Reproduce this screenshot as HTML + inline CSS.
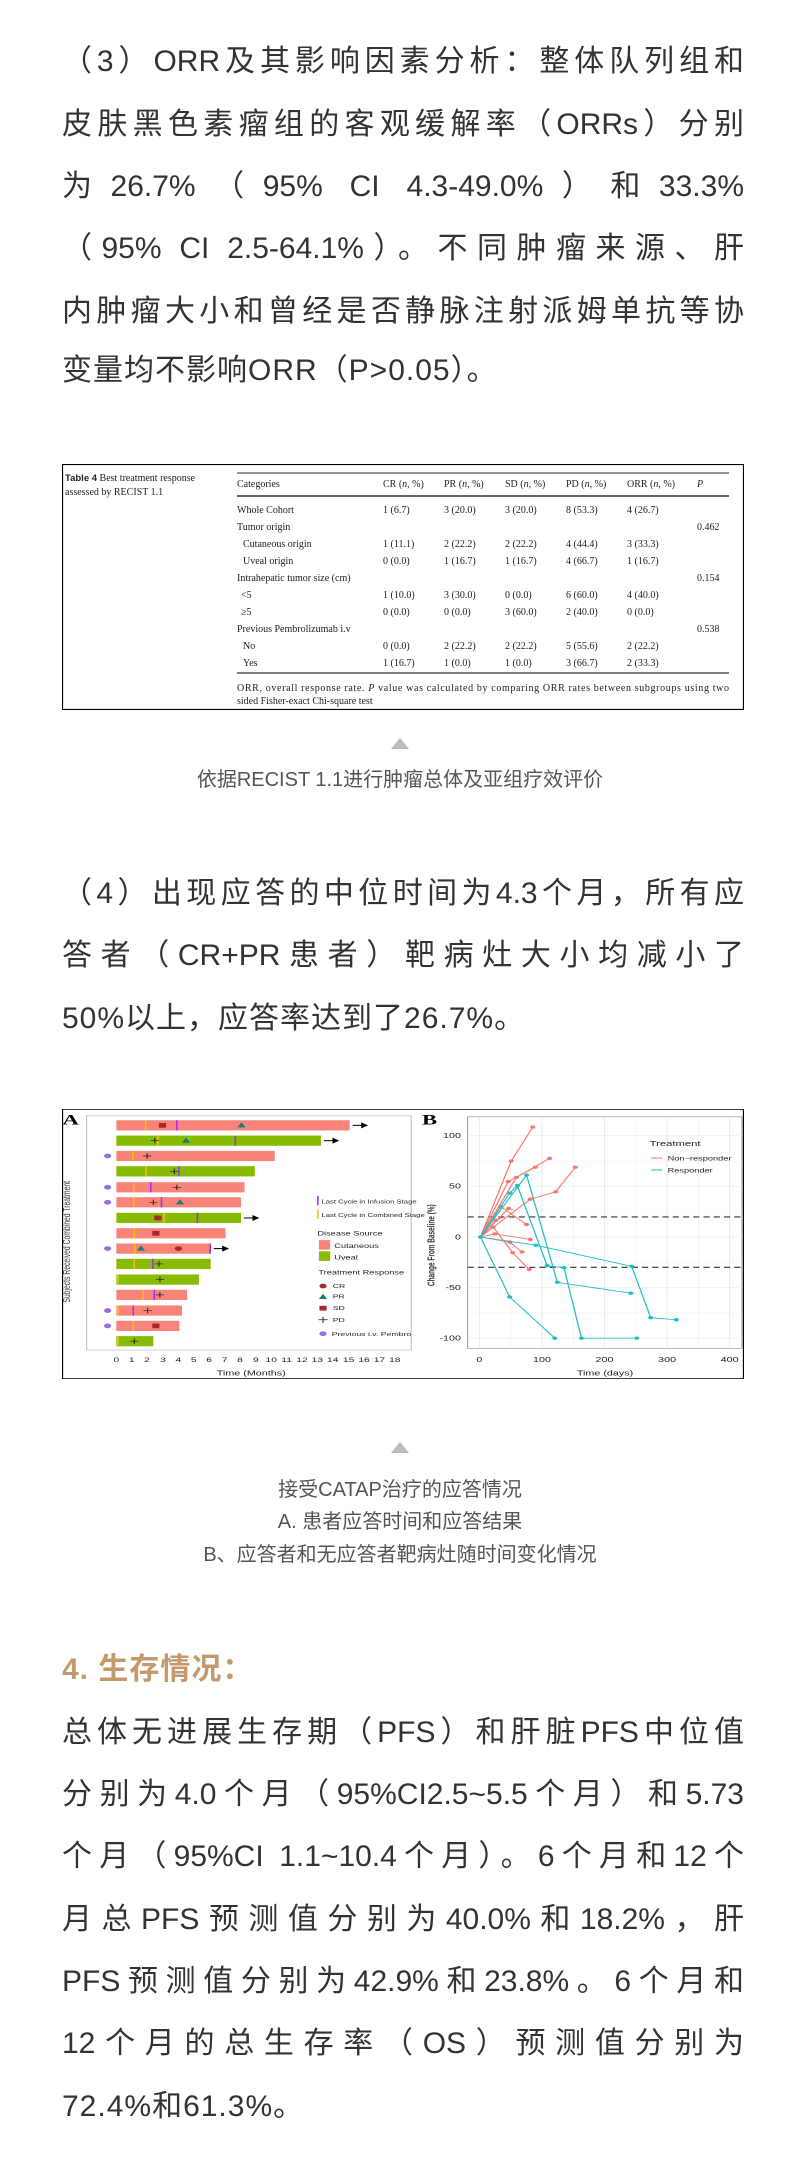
<!DOCTYPE html>
<html><head><meta charset="utf-8">
<style>
html,body{margin:0;padding:0;background:#fff;}
body{width:800px;height:2169px;position:relative;overflow:hidden;font-family:"Liberation Sans","Noto Sans CJK SC",sans-serif;color:#333;}
.l{position:absolute;left:62px;width:682px;height:62px;line-height:62px;font-size:30px;letter-spacing:0px;text-align:justify;text-align-last:justify;white-space:nowrap;}
.l.e{text-align-last:left;letter-spacing:1px;}
.c{position:absolute;left:0;width:800px;text-align:center;font-size:20px;color:#555;line-height:30px;}
.tri{position:absolute;left:391px;width:0;height:0;border-left:9px solid transparent;border-right:9px solid transparent;border-bottom:11px solid #bbb;}
</style></head><body>

<div class="l" style="top:31px">（3）ORR及其影响因素分析：整体队列组和</div>
<div class="l" style="top:94px">皮肤黑色素瘤组的客观缓解率（ORRs）分别</div>
<div class="l" style="top:156px">为26.7%（95% CI 4.3-49.0%）和33.3%</div>
<div class="l" style="top:218px">（95% CI 2.5-64.1%）。不同肿瘤来源、肝</div>
<div class="l" style="top:281px">内肿瘤大小和曾经是否静脉注射派姆单抗等协</div>
<div class="l e" style="top:340px">变量均不影响ORR（P&gt;0.05）。</div>

<svg style="position:absolute;left:62px;top:464px" width="682" height="246" viewBox="62 464 682 246" font-family="Liberation Serif,serif" font-size="10" fill="#222">
<rect x="62.5" y="464.5" width="681" height="245" fill="#fff" stroke="#000" stroke-width="1.2"/>
<text x="65" y="481"><tspan font-family="Liberation Sans Narrow,Liberation Sans,sans-serif" font-weight="bold" font-size="9.5">Table 4</tspan> Best treatment response</text>
<text x="65" y="495">assessed by RECIST 1.1</text>
<line x1="237" y1="473" x2="729" y2="473" stroke="#555" stroke-width="1.2"/>
<line x1="237" y1="496" x2="729" y2="496" stroke="#333" stroke-width="1.5"/>
<line x1="237" y1="673" x2="729" y2="673" stroke="#555" stroke-width="1.5"/>
<g>
<text x="237" y="487">Categories</text><text x="383" y="487">CR (<tspan font-style="italic">n</tspan>, %)</text><text x="444" y="487">PR (<tspan font-style="italic">n</tspan>, %)</text><text x="505" y="487">SD (<tspan font-style="italic">n</tspan>, %)</text><text x="566" y="487">PD (<tspan font-style="italic">n</tspan>, %)</text><text x="627" y="487">ORR (<tspan font-style="italic">n</tspan>, %)</text><text x="697" y="487" font-style="italic">P</text>
<text x="237" y="513">Whole Cohort</text><text x="383" y="513">1 (6.7)</text><text x="444" y="513">3 (20.0)</text><text x="505" y="513">3 (20.0)</text><text x="566" y="513">8 (53.3)</text><text x="627" y="513">4 (26.7)</text>
<text x="237" y="530">Tumor origin</text><text x="697" y="530">0.462</text>
<text x="243" y="547">Cutaneous origin</text><text x="383" y="547">1 (11.1)</text><text x="444" y="547">2 (22.2)</text><text x="505" y="547">2 (22.2)</text><text x="566" y="547">4 (44.4)</text><text x="627" y="547">3 (33.3)</text>
<text x="243" y="564">Uveal origin</text><text x="383" y="564">0 (0.0)</text><text x="444" y="564">1 (16.7)</text><text x="505" y="564">1 (16.7)</text><text x="566" y="564">4 (66.7)</text><text x="627" y="564">1 (16.7)</text>
<text x="237" y="581">Intrahepatic tumor size (cm)</text><text x="697" y="581">0.154</text>
<text x="241" y="598">&lt;5</text><text x="383" y="598">1 (10.0)</text><text x="444" y="598">3 (30.0)</text><text x="505" y="598">0 (0.0)</text><text x="566" y="598">6 (60.0)</text><text x="627" y="598">4 (40.0)</text>
<text x="241" y="615">≥5</text><text x="383" y="615">0 (0.0)</text><text x="444" y="615">0 (0.0)</text><text x="505" y="615">3 (60.0)</text><text x="566" y="615">2 (40.0)</text><text x="627" y="615">0 (0.0)</text>
<text x="237" y="632">Previous Pembrolizumab i.v</text><text x="697" y="632">0.538</text>
<text x="243" y="649">No</text><text x="383" y="649">0 (0.0)</text><text x="444" y="649">2 (22.2)</text><text x="505" y="649">2 (22.2)</text><text x="566" y="649">5 (55.6)</text><text x="627" y="649">2 (22.2)</text>
<text x="243" y="666">Yes</text><text x="383" y="666">1 (16.7)</text><text x="444" y="666">1 (0.0)</text><text x="505" y="666">1 (0.0)</text><text x="566" y="666">3 (66.7)</text><text x="627" y="666">2 (33.3)</text>
<text x="237" y="691" textLength="492">ORR, overall response rate. <tspan font-style="italic">P</tspan> value was calculated by comparing ORR rates between subgroups using two</text>
<text x="237" y="704">sided Fisher-exact Chi-square test</text>
</g>
</svg>

<div class="tri" style="top:738px"></div>
<div class="c" style="top:765px">依据RECIST 1.1进行肿瘤总体及亚组疗效评价</div>

<div class="l" style="top:863px">（4）出现应答的中位时间为4.3个月，所有应</div>
<div class="l" style="top:925px">答者（CR+PR患者）靶病灶大小均减小了</div>
<div class="l e" style="top:988px">50%以上，应答率达到了26.7%。</div>

<svg style="position:absolute;left:62px;top:1109px" width="682" height="270" viewBox="124 85 1330 793" preserveAspectRatio="none" font-family="Liberation Sans Narrow,Liberation Sans,sans-serif">
<rect x="125" y="86" width="1328" height="791" fill="#fff" stroke="#000" stroke-width="2.5"/>
<text x="125" y="130" font-family="Liberation Serif,serif" font-weight="bold" font-size="44">A</text>
<rect x="172" y="105" width="633" height="688" fill="#fff" stroke="#bbb" stroke-width="2"/>
<text transform="translate(140,475) rotate(-90)" text-anchor="middle" font-size="20" fill="#333">Subjects Received Combined Treatment</text>
<g>
<rect x="230" y="118" width="455" height="30" fill="#f88379"/>
<rect x="230" y="163" width="399" height="30" fill="#86bb00"/>
<rect x="230" y="208" width="309" height="30" fill="#f88379"/>
<rect x="230" y="253" width="270" height="30" fill="#86bb00"/>
<rect x="230" y="300" width="250" height="30" fill="#f88379"/>
<rect x="230" y="344" width="243" height="30" fill="#f88379"/>
<rect x="230" y="390" width="243" height="30" fill="#86bb00"/>
<rect x="230" y="435" width="213" height="30" fill="#f88379"/>
<rect x="230" y="480" width="184" height="30" fill="#f88379"/>
<rect x="230" y="525" width="184" height="30" fill="#86bb00"/>
<rect x="230" y="571" width="161" height="30" fill="#86bb00"/>
<rect x="230" y="616" width="138" height="30" fill="#f88379"/>
<rect x="230" y="662" width="128" height="30" fill="#f88379"/>
<rect x="230" y="707" width="123" height="30" fill="#f88379"/>
<rect x="230" y="752" width="72" height="30" fill="#86bb00"/>
</g>
<g stroke-width="3">
<g stroke="#f5c400">
<line x1="287" y1="118" x2="287" y2="148"/><line x1="311" y1="163" x2="311" y2="193"/><line x1="262" y1="208" x2="262" y2="238"/><line x1="288" y1="253" x2="288" y2="283"/><line x1="264" y1="300" x2="264" y2="330"/><line x1="264" y1="344" x2="264" y2="374"/><line x1="323" y1="390" x2="323" y2="420"/><line x1="265" y1="435" x2="265" y2="465"/><line x1="266" y1="480" x2="266" y2="510"/><line x1="265" y1="525" x2="265" y2="555"/><line x1="233" y1="571" x2="233" y2="601"/><line x1="282" y1="616" x2="282" y2="646"/><line x1="233" y1="662" x2="233" y2="692"/><line x1="263" y1="707" x2="263" y2="737"/><line x1="233" y1="752" x2="233" y2="782"/>
</g>
<g stroke="#9b30ff">
<line x1="348" y1="118" x2="348" y2="148"/><line x1="462" y1="163" x2="462" y2="193"/><line x1="352" y1="253" x2="352" y2="283"/><line x1="297" y1="300" x2="297" y2="330"/><line x1="318" y1="344" x2="318" y2="374"/><line x1="388" y1="390" x2="388" y2="420"/><line x1="413" y1="480" x2="413" y2="510"/><line x1="301" y1="525" x2="301" y2="555"/><line x1="304" y1="616" x2="304" y2="646"/><line x1="263" y1="662" x2="263" y2="692"/>
</g>
</g>
<g fill="#a52a2a">
<rect x="313" y="126" width="14" height="14"/><rect x="304" y="398" width="14" height="14"/><rect x="300" y="443" width="14" height="14"/><rect x="300" y="715" width="14" height="14"/>
<circle cx="351" cy="495" r="7"/>
</g>
<g fill="#1a7a7a">
<polygon points="474,124 466,139 482,139"/><polygon points="366,169 358,184 374,184"/><polygon points="354,350 346,365 362,365"/><polygon points="278,486 270,501 286,501"/>
</g>
<g stroke="#222" stroke-width="2">
<path d="M297,178h16M305,170v16M282,223h16M290,215v16M335,268h16M343,260v16M340,315h16M348,307v16M294,359h16M302,351v16M305,540h16M313,532v16M307,586h16M315,578v16M307,631h16M315,623v16M283,677h16M291,669v16M257,767h16M265,759v16"/>
</g>
<g fill="#9370db">
<circle cx="213" cy="223" r="7"/><circle cx="213" cy="315" r="7"/><circle cx="213" cy="359" r="7"/><circle cx="213" cy="495" r="7"/><circle cx="213" cy="677" r="7"/><circle cx="213" cy="722" r="7"/>
</g>
<g stroke="#000" stroke-width="3" fill="#000">
<line x1="691" y1="133" x2="712" y2="133"/><polygon points="718,133 709,127 709,139"/>
<line x1="635" y1="178" x2="656" y2="178"/><polygon points="662,178 653,172 653,184"/>
<line x1="479" y1="405" x2="500" y2="405"/><polygon points="506,405 497,399 497,411"/>
<line x1="420" y1="495" x2="441" y2="495"/><polygon points="447,495 438,489 438,501"/>
</g>
<g font-size="20" fill="#222" text-anchor="middle">
<text x="230" y="828">0</text><text x="260" y="828">1</text><text x="290" y="828">2</text><text x="321" y="828">3</text><text x="351" y="828">4</text><text x="381" y="828">5</text><text x="411" y="828">6</text><text x="441" y="828">7</text><text x="471" y="828">8</text><text x="502" y="828">9</text><text x="532" y="828">10</text><text x="562" y="828">11</text><text x="592" y="828">12</text><text x="622" y="828">13</text><text x="652" y="828">14</text><text x="683" y="828">15</text><text x="713" y="828">16</text><text x="743" y="828">17</text><text x="773" y="828">18</text>
<text x="493" y="868" font-size="21">Time (Months)</text>
</g>
<g font-size="15" fill="#222">
<line x1="623" y1="340" x2="623" y2="368" stroke="#9b30ff" stroke-width="3"/><text x="630" y="362">Last Cycle in Infusion Stage</text>
<line x1="623" y1="380" x2="623" y2="408" stroke="#f5c400" stroke-width="3"/><text x="630" y="402">Last Cycle in Combined Stage</text>
<text x="622" y="456" font-size="18">Disease Source</text>
<rect x="625" y="470" width="22" height="28" fill="#f88379"/><text x="655" y="493" font-size="18">Cutaneous</text>
<rect x="625" y="503" width="22" height="28" fill="#86bb00"/><text x="655" y="527" font-size="18">Uveal</text>
<text x="624" y="571" font-size="18">Treatment Response</text>
<circle cx="633" cy="605" r="7" fill="#a52a2a"/><text x="652" y="611" font-size="17">CR</text>
<polygon points="633,628 625,643 641,643" fill="#1a7a7a"/><text x="652" y="642" font-size="17">PR</text>
<rect x="626" y="663" width="14" height="14" fill="#a52a2a"/><text x="652" y="676" font-size="17">SD</text>
<path d="M624,704h18M633,695v18" stroke="#222" stroke-width="2"/><text x="652" y="710" font-size="17">PD</text>
<circle cx="633" cy="745" r="7" fill="#9370db"/><text x="650" y="751" font-size="17">Previous i.v. Pembro</text>
</g>
<text x="826" y="130" font-family="Liberation Serif,serif" font-weight="bold" font-size="44">B</text>
<rect x="915" y="108" width="535" height="680" fill="#fff" stroke="#999" stroke-width="2"/>
<g stroke="#ebebeb" stroke-width="2">
<line x1="938" y1="108" x2="938" y2="788"/><line x1="1060" y1="108" x2="1060" y2="788"/><line x1="1182" y1="108" x2="1182" y2="788"/><line x1="1304" y1="108" x2="1304" y2="788"/><line x1="1426" y1="108" x2="1426" y2="788"/>
<line x1="999" y1="108" x2="999" y2="788" stroke-width="1"/><line x1="1121" y1="108" x2="1121" y2="788" stroke-width="1"/><line x1="1243" y1="108" x2="1243" y2="788" stroke-width="1"/><line x1="1365" y1="108" x2="1365" y2="788" stroke-width="1"/>
<line x1="915" y1="163" x2="1450" y2="163"/><line x1="915" y1="312" x2="1450" y2="312"/><line x1="915" y1="461" x2="1450" y2="461"/><line x1="915" y1="610" x2="1450" y2="610"/><line x1="915" y1="758" x2="1450" y2="758"/>
<line x1="915" y1="238" x2="1450" y2="238" stroke-width="1"/><line x1="915" y1="386" x2="1450" y2="386" stroke-width="1"/><line x1="915" y1="535" x2="1450" y2="535" stroke-width="1"/><line x1="915" y1="684" x2="1450" y2="684" stroke-width="1"/>
</g>
<g stroke="#333" stroke-width="3" stroke-dasharray="12,8">
<line x1="915" y1="402" x2="1450" y2="402"/><line x1="915" y1="550" x2="1450" y2="550"/>
</g>
<g fill="none" stroke="#f8766d" stroke-width="2.5">
<polyline points="940,461 1000,238 1042,138"/>
<polyline points="940,461 994,298 1047,256"/>
<polyline points="940,461 1010,286 1075,230"/>
<polyline points="940,461 1037,350 1087,328 1125,256"/>
<polyline points="940,461 980,372 1030,424"/>
<polyline points="940,461 970,412 983,404"/>
<polyline points="940,461 968,452 1037,468"/>
<polyline points="940,461 997,476 1021,505"/>
<polyline points="940,461 965,432 1003,507 1035,556"/>
<polyline points="940,461 995,377 1005,382"/>
</g>
<g fill="#f8766d">
<circle cx="1000" cy="238" r="5"/><circle cx="1042" cy="138" r="5"/><circle cx="994" cy="298" r="5"/><circle cx="1047" cy="256" r="5"/><circle cx="1010" cy="286" r="5"/><circle cx="1075" cy="230" r="5"/><circle cx="1037" cy="350" r="5"/><circle cx="1087" cy="328" r="5"/><circle cx="1125" cy="256" r="5"/><circle cx="980" cy="372" r="5"/><circle cx="1030" cy="424" r="5"/><circle cx="970" cy="412" r="5"/><circle cx="968" cy="452" r="5"/><circle cx="1037" cy="468" r="5"/><circle cx="997" cy="476" r="5"/><circle cx="1021" cy="505" r="5"/><circle cx="965" cy="432" r="5"/><circle cx="1003" cy="507" r="5"/><circle cx="1035" cy="556" r="5"/><circle cx="995" cy="377" r="5"/>
</g>
<g fill="none" stroke="#1fbfc4" stroke-width="2.5">
<polyline points="940,461 997,332 1012,310 1070,545 1103,551 1137,758 1245,758"/>
<polyline points="940,461 1030,279 1090,594 1233,626"/>
<polyline points="940,461 1048,485 1235,547 1272,698 1322,704"/>
<polyline points="940,461 997,637 1085,758"/>
</g>
<g fill="#1fbfc4">
<circle cx="997" cy="332" r="5"/><circle cx="1012" cy="310" r="5"/><circle cx="1070" cy="545" r="5"/><circle cx="1103" cy="551" r="5"/><circle cx="1137" cy="758" r="5"/><circle cx="1245" cy="758" r="5"/><circle cx="1030" cy="279" r="5"/><circle cx="1090" cy="594" r="5"/><circle cx="1233" cy="626" r="5"/><circle cx="1048" cy="485" r="5"/><circle cx="1235" cy="547" r="5"/><circle cx="1272" cy="698" r="5"/><circle cx="1322" cy="704" r="5"/><circle cx="997" cy="637" r="5"/><circle cx="1085" cy="758" r="5"/><circle cx="940" cy="461" r="5"/>
</g>
<g font-size="21" fill="#222">
<g text-anchor="end"><text x="902" y="170">100</text><text x="902" y="319">50</text><text x="902" y="468">0</text><text x="902" y="617">-50</text><text x="902" y="765">-100</text></g>
<g text-anchor="middle"><text x="938" y="828">0</text><text x="1060" y="828">100</text><text x="1182" y="828">200</text><text x="1304" y="828">300</text><text x="1426" y="828">400</text>
<text x="1183" y="868">Time (days)</text></g>
<text transform="translate(850,485) rotate(-90)" text-anchor="middle" font-size="19" font-family="Liberation Sans,sans-serif" font-weight="bold" fill="#333">Change From Baseline (%)</text>
<text x="1270" y="193" font-size="22">Treatment</text>
<line x1="1273" y1="229" x2="1295" y2="229" stroke="#f8766d" stroke-width="3"/><text x="1305" y="236" font-size="18">Non−responder</text>
<line x1="1273" y1="264" x2="1295" y2="264" stroke="#1fbfc4" stroke-width="3"/><text x="1305" y="271" font-size="18">Responder</text>
</g>
</svg>

<div class="tri" style="top:1442px"></div>
<div class="c" style="top:1475px">接受CATAP治疗的应答情况</div>
<div class="c" style="top:1507px">A. 患者应答时间和应答结果</div>
<div class="c" style="top:1540px">B、应答者和无应答者靶病灶随时间变化情况</div>

<div class="l e" style="top:1639px;color:#c49a6c;font-weight:bold;">4. 生存情况：</div>
<div class="l" style="top:1702px">总体无进展生存期（PFS）和肝脏PFS中位值</div>
<div class="l" style="top:1764px">分别为4.0个月（95%CI2.5~5.5个月）和5.73</div>
<div class="l" style="top:1826px">个月（95%CI 1.1~10.4个月）。6个月和12个</div>
<div class="l" style="top:1889px">月总PFS预测值分别为40.0%和18.2%，肝</div>
<div class="l" style="top:1951px">PFS预测值分别为42.9%和23.8%。6个月和</div>
<div class="l" style="top:2013px">12个月的总生存率（OS）预测值分别为</div>
<div class="l e" style="top:2076px">72.4%和61.3%。</div>

</body></html>
